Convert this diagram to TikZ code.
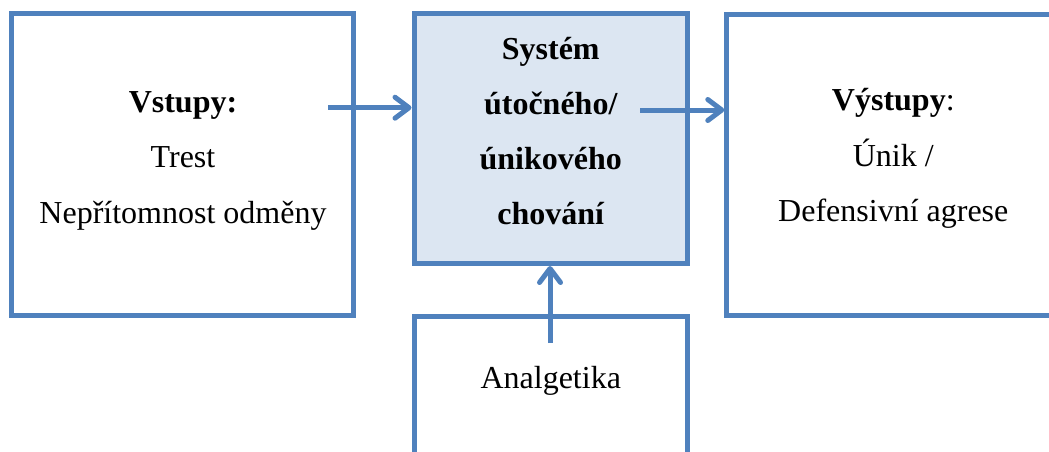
\documentclass[tikz,border=0pt]{standalone}
\usepackage{fontspec}
\setmainfont{Liberation Serif}
\usetikzlibrary{arrows.meta,positioning}
\definecolor{modra}{HTML}{4F81BD}
\definecolor{svetla}{HTML}{DCE6F2}
\tikzset{
    %Define standard arrow tip
    >={Straight Barb[length=14pt,width=21pt,line width=5pt,round]},
    %Define style for boxes
    blok/.style={
           rectangle,
           draw=modra, line width=5pt,
           inner sep=0pt,
           outer sep=0pt},
    popis/.style={
           align=center,
           inner sep=0pt,
           font=\fontsize{32pt}{55.5pt}\selectfont},
    % Define arrow style
    pil/.style={
           ->,
           draw=modra,
           line width=5pt,
           shorten >=2.5pt}
}
\begin{document}
\begin{tikzpicture}[x=1pt,y=-1pt]
\useasboundingbox (0,0) rectangle (1049,451);
\clip (0,0) rectangle (1049,451);
\node[blok, minimum width=342pt, minimum height=302pt](vstupy) at (182,164.5) {};
\node[blok, fill=svetla, minimum width=273.5pt, minimum height=250pt](system) at (550.75,138.5) {};
\node[blok, minimum width=333pt, minimum height=301.5pt](vystupy) at (893.3,164.75) {};
\node[blok, minimum width=273.5pt, minimum height=160pt, anchor=north](analg) at (550.75,316) {};
% texts
\node[popis](vstupyT) at (183,160.5) {\textbf{Vstupy:}\\Trest\\Nepřítomnost odměny};
\node[popis, font=\fontsize{32pt}{55pt}\selectfont\bfseries](systemT) at (550.75,131.5)
    {Systém\\útočného/\\únikového\\chování};
\node[popis](vystupyT) at (893.3,158.5) {\textbf{Výstupy}:\\Únik /\\Defensivní agrese};
\node[popis](analgT) at (550.75,381) {Analgetika};
% arrows
\coordinate (z1) at (328,107.7);
\coordinate (z2) at (640,110);
\coordinate (z3) at (550,343);
\draw[pil] (z1) -- (z1 -| system.west);
\draw[pil] (z2) -- (z2 -| vystupy.west);
\draw[pil] (z3) -- (z3 |- system.south);
\end{tikzpicture}
\end{document}
